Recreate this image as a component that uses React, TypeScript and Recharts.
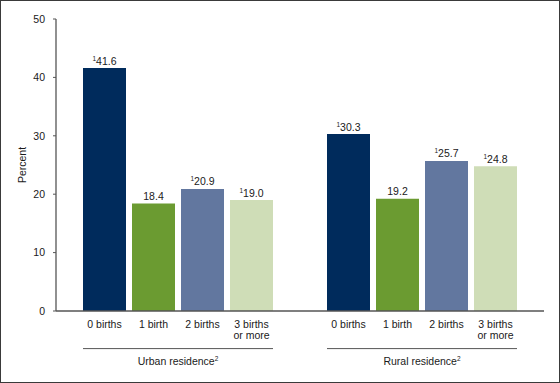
import React from 'react';
import { BarChart, Bar, XAxis, YAxis, LabelList } from 'recharts';

const groups = ['Urban residence', 'Rural residence'];
const categoryLines = [['0 births'], ['1 birth'], ['2 births'], ['3 births', 'or more']];
const urbanValues = [41.6, 18.4, 20.9, 19.0];
const ruralValues = [30.3, 19.2, 25.7, 24.8];
const urbanFlags = [true, false, true, true];
const ruralFlags = [true, false, true, true];
const yTicks = [0, 10, 20, 30, 40, 50];
const colors = ['#002b5c', '#6b9b31', '#62779f', '#cfddb7'];

const valuesByGroup = [urbanValues, ruralValues];
const flagsByGroup = [urbanFlags, ruralFlags];

const data = groups.map((g, gi) => {
  const row: any = { group: g };
  categoryLines.forEach((_, ci) => {
    row['s' + ci] = valuesByGroup[gi][ci];
  });
  return row;
});

const FONT = '"Liberation Sans", Arial, sans-serif';
const FS = 10.5;
const TEXT = '#1a1a1a';
const AXIS = '#555555';
const BAR_SIZE = 43;
const BAR_GAP = 6;
const GROUP_HALF = (BAR_SIZE * categoryLines.length + BAR_GAP * (categoryLines.length - 1)) / 2;

const makeValueLabel = (ci: number) => (props: any) => {
  const { x, y, width, value, index } = props;
  const flag = flagsByGroup[index][ci];
  return (
    <text x={Number(x) + Number(width) / 2} y={Number(y) - 3.5} textAnchor="middle" fontFamily={FONT} fontSize={FS} fill={TEXT}>
      {flag ? <tspan fontSize={6.5} dy={-4}>1</tspan> : null}
      <tspan dy={flag ? 4 : 0}>{Number(value).toFixed(1)}</tspan>
    </text>
  );
};

const makeCategoryLabel = (ci: number) => (props: any) => {
  const { x, y, width, height } = props;
  const cx = Number(x) + Number(width) / 2;
  const base = Number(y) + Number(height) + 17;
  return (
    <text x={cx} y={base} textAnchor="middle" fontFamily={FONT} fontSize={FS} fill={TEXT}>
      {categoryLines[ci].map((line, li) => (
        <tspan key={li} x={cx} dy={li === 0 ? 0 : 11}>{line}</tspan>
      ))}
    </text>
  );
};

const GroupTick = (props: any) => {
  const { x, y, payload } = props;
  return (
    <g>
      <line x1={x - GROUP_HALF} x2={x + GROUP_HALF} y1={y + 37.6} y2={y + 37.6} stroke={AXIS} strokeWidth={1} />
      <text x={x} y={y + 54} textAnchor="middle" fontFamily={FONT} fontSize={FS} fill={TEXT}>
        {payload.value}
        <tspan fontSize={6.5} dy={-4}>2</tspan>
      </text>
    </g>
  );
};

const PercentLabel = (props: any) => {
  const vb = props.viewBox || {};
  const x = vb.x + 6;
  const y = vb.y + vb.height / 2;
  return (
    <text x={x} y={y} transform={`rotate(-90 ${x} ${y})`} textAnchor="middle" dominantBaseline="central" fontFamily={FONT} fontSize={FS} fill={TEXT}>
      Percent
    </text>
  );
};

export default function App() {
  return (
    <div style={{ position: 'absolute', left: 0, top: 0, width: 560, height: 383, background: '#fff' }}>
      <BarChart
        width={560}
        height={383}
        data={data}
        margin={{ top: 19, right: 16, bottom: 12, left: 16 }}
        barSize={BAR_SIZE}
        barGap={BAR_GAP}
      >
        <XAxis
          dataKey="group"
          height={60}
          tickLine={false}
          tickSize={0}
          tickMargin={0}
          axisLine={{ stroke: AXIS, strokeWidth: 1.3 }}
          tick={<GroupTick />}
          interval={0}
        />
        <YAxis
          width={40}
          domain={[0, 50]}
          ticks={yTicks}
          tickSize={3}
          tickMargin={8}
          axisLine={{ stroke: AXIS, strokeWidth: 1.3 }}
          tickLine={{ stroke: AXIS }}
          tick={{ fontFamily: FONT, fontSize: FS, fill: TEXT }}
          label={<PercentLabel />}
          allowDecimals={false}
        />
        {categoryLines.map((_, ci) => (
          <Bar key={ci} dataKey={'s' + ci} fill={colors[ci]} isAnimationActive={false}>
            <LabelList dataKey={'s' + ci} content={makeValueLabel(ci)} />
            <LabelList dataKey={'s' + ci} content={makeCategoryLabel(ci)} />
          </Bar>
        ))}
      </BarChart>
      <div style={{ position: 'absolute', left: 0, top: 0, width: 558, height: 381, border: '1px solid #3a3a3a', pointerEvents: 'none' }} />
    </div>
  );
}
